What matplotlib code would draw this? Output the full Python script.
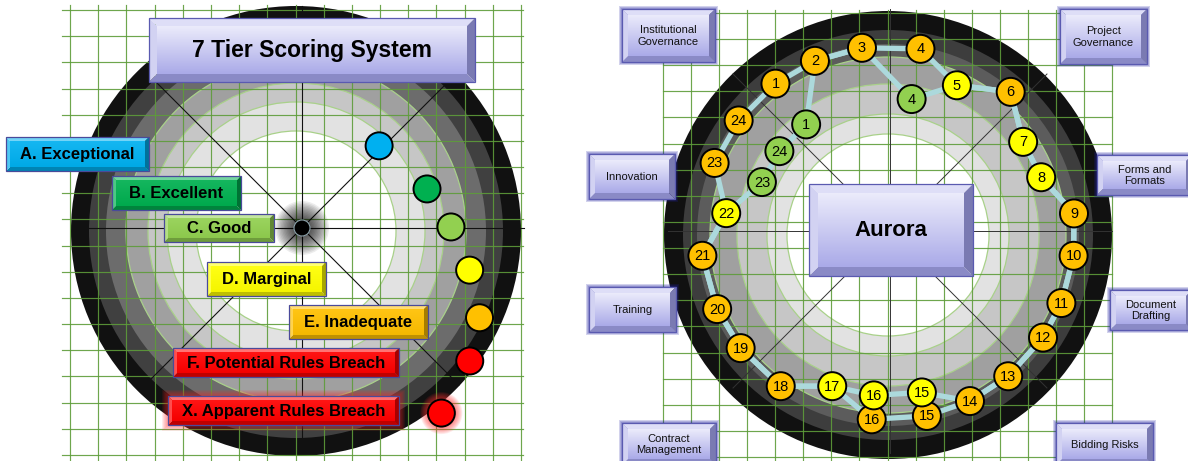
import numpy as np
import matplotlib
matplotlib.use("Agg")
import matplotlib.pyplot as plt
from matplotlib.patches import Circle, Rectangle, Polygon
from matplotlib.colors import to_rgb

# ---------------- data ----------------
TITLE = "7 Tier Scoring System"
TIER_CODES = ["A", "B", "C", "D", "E", "F", "X"]
TIER_NAMES = ["A. Exceptional", "B. Excellent", "C. Good", "D. Marginal",
              "E. Inadequate", "F. Potential Rules Breach", "X. Apparent Rules Breach"]
TIER_COLORS = ["#00b0f0", "#00b050", "#92d050", "#ffff00", "#ffc000", "#ff0000", "#ff0000"]

CENTER_LABEL = "Aurora"
CATEGORIES = ["Institutional\nGovernance", "Project\nGovernance", "Innovation",
              "Forms and\nFormats", "Training", "Document\nDrafting",
              "Contract\nManagement", "Bidding Risks"]
ITEMS = list(range(1, 25))
CURRENT_SCORES = ["E", "E", "E", "E", "D", "E", "D", "D", "E", "E", "E", "E",
                  "E", "E", "E", "E", "D", "E", "E", "E", "E", "D", "E", "E"]
REVISED_SCORES = ["C", "E", "E", "C", "D", "E", "D", "D", "E", "E", "E", "E",
                  "E", "E", "D", "D", "D", "E", "E", "E", "E", "D", "C", "C"]

# ---------------- layout ----------------
W, H = 1188, 461
fig = plt.figure(figsize=(W / 100, H / 100), dpi=100)
ax = fig.add_axes([0, 0, 1, 1])
ax.set_xlim(0, W)
ax.set_ylim(H, 0)
ax.axis("off")
FONT = "Liberation Sans"
COLOR_OF = dict(zip(TIER_CODES, TIER_COLORS))


def mix(c, c2, t):
    a = np.array(to_rgb(c))
    b = np.array(to_rgb(c2))
    return tuple(a * (1 - t) + b * t)


def gradient(x0, y0, x1, y1, ctop, cbot, z):
    n = 64
    t = np.linspace(0, 1, n)[:, None]
    a = np.array(to_rgb(ctop))
    b = np.array(to_rgb(cbot))
    arr = (a * (1 - t) + b * t)[:, None, :]
    ax.imshow(arr, extent=(x0, x1, y1, y0), aspect="auto", zorder=z,
              interpolation="bilinear", origin="upper")


def bevel_box(x0, y0, x1, y1, face, b, text, fs, weight="bold", lavender=False,
              glow=None, z=10, tcolor="black"):
    if glow is not None:
        gc, gw, ga = glow
        for k in range(gw, 0, -1):
            ax.add_patch(Rectangle((x0 - k, y0 - k), x1 - x0 + 2 * k, y1 - y0 + 2 * k,
                                   fc=gc, ec="none", alpha=ga, zorder=z - 0.5))
    if lavender:
        ctop, cbot = "#ebebfb", "#aaaae8"
        btop, bleft, bright, bbot = "#dedef7", "#d2d2f2", "#7a7ab2", "#8a8ac6"
        edge = "#5a5ab0"
    else:
        ctop, cbot = mix(face, "white", 0.08), mix(face, "black", 0.04)
        btop, bleft = mix(face, "white", 0.45), mix(face, "white", 0.3)
        bright, bbot = mix(face, "black", 0.35), mix(face, "black", 0.25)
        edge = "#4a4a9a"
    ax.add_patch(Polygon([(x0, y0), (x1, y0), (x1 - b, y0 + b), (x0 + b, y0 + b)],
                         fc=btop, ec="none", zorder=z))
    ax.add_patch(Polygon([(x0, y1), (x1, y1), (x1 - b, y1 - b), (x0 + b, y1 - b)],
                         fc=bbot, ec="none", zorder=z))
    ax.add_patch(Polygon([(x0, y0), (x0 + b, y0 + b), (x0 + b, y1 - b), (x0, y1)],
                         fc=bleft, ec="none", zorder=z))
    ax.add_patch(Polygon([(x1, y0), (x1 - b, y0 + b), (x1 - b, y1 - b), (x1, y1)],
                         fc=bright, ec="none", zorder=z))
    gradient(x0 + b, y0 + b, x1 - b, y1 - b, ctop, cbot, z + 0.1)
    ax.add_patch(Rectangle((x0, y0), x1 - x0, y1 - y0, fc="none", ec=edge, lw=0.9,
                           zorder=z + 0.2))
    ax.text((x0 + x1) / 2, (y0 + y1) / 2 + 0.5, text, ha="center", va="center",
            fontsize=fs, fontweight=weight, family=FONT, color=tcolor, zorder=z + 0.3,
            linespacing=1.15)


def rings(cx, cy, radii, colors, outline_from, z=1):
    for r, c in zip(radii, colors):
        ax.add_patch(Circle((cx, cy), r, fc=c, ec="none", zorder=z))
    for r in radii[outline_from:]:
        ax.add_patch(Circle((cx, cy), r, fc="none", ec="#a9d18a", lw=0.9, zorder=z + 0.1))


def grid(xs, ys, xr, yr, z=2):
    for x in xs:
        ax.plot([x, x], yr, color="#5e9c3a", lw=0.85, alpha=0.9, zorder=z)
    for y in ys:
        ax.plot(xr, [y, y], color="#5e9c3a", lw=0.85, alpha=0.9, zorder=z)


def spokes(cx, cy, length, color, lw, z=3):
    for ang in range(0, 360, 45):
        a = np.deg2rad(ang)
        ax.plot([cx, cx + length * np.cos(a)], [cy, cy - length * np.sin(a)],
                color=color, lw=lw, zorder=z)


# ================= LEFT PANEL =================
LCX, LCY = 296, 231
rings(LCX, LCY, [225, 207, 190, 170, 148, 129, 100],
      ["#111111", "#404040", "#6c6c6c", "#a0a0a0", "#c6c6c6", "#e2e2e2", "#ffffff"], 3)
grid(np.linspace(70, 521, 17), np.linspace(10, 455, 18), (62, 523), (5, 461))
spokes(302, 228, 222, "#111111", 0.8)

# center dot with soft shadow
for r in np.linspace(27, 8, 14):
    ax.add_patch(Circle((302, 228), r, fc="black", ec="none", alpha=0.075, zorder=4))
ax.add_patch(Circle((302, 228), 8, fc="black", ec="#8aa0a8", lw=0.8, zorder=4.5))

# tier legend boxes
LEFT_BOXES = [(6, 137, 149, 171), (112, 176, 241, 210), (164, 214, 274, 242),
              (207, 262, 326, 296), (289, 305, 428, 339), (173, 348, 399, 377),
              (168, 396, 399, 425)]
for name, col, (x0, y0, x1, y1), code in zip(TIER_NAMES, TIER_COLORS, LEFT_BOXES, TIER_CODES):
    glow = ("#ff2020", 6, 0.09) if code == "X" else None
    bevel_box(x0, y0, x1, y1, col, 4, name, 12, glow=glow, z=10)

# tier legend dots
DOT_ANG = [45.7, 17.8, 1.5, -12.7, -25.3, -36.8, -51.4]
DOT_RAD = [119, 137.6, 155, 178, 203, 217, 233]
for code, col, a, r in zip(TIER_CODES, TIER_COLORS, DOT_ANG, DOT_RAD):
    x = LCX + r * np.cos(np.deg2rad(a))
    y = LCY - r * np.sin(np.deg2rad(a))
    if code == "X":
        for rr in np.linspace(21, 14, 8):
            ax.add_patch(Circle((x, y), rr, fc="#ff3030", ec="none", alpha=0.1, zorder=14))
    ax.add_patch(Circle((x, y), 13.5, fc=col, ec="black", lw=1.4, zorder=15))

bevel_box(149, 18, 475, 82, None, 8, TITLE, 16.5, lavender=True, z=12)

# ================= RIGHT PANEL =================
RCX, RCY = 888, 233
rings(RCX, RCY + 2, [224, 205, 191, 178, 151, 121, 101],
      ["#111111", "#3d3d3d", "#5c5c5c", "#a0a0a0", "#c6c6c6", "#e2e2e2", "#ffffff"], 3)
grid(np.linspace(663, 1112, 17), np.linspace(13, 457, 18), (663, 1112), (10, 461))
spokes(890, 231, 222, "#333333", 0.7)

bevel_box(809, 184, 973, 276, None, 9, CENTER_LABEL, 16, lavender=True, z=12)

CAT_BOXES = [(622, 9, 715, 62), (1060, 9, 1147, 64), (589, 154, 675, 199),
             (1097, 155, 1192, 195), (589, 287, 676, 332), (1110, 290, 1192, 330),
             (622, 423, 716, 465), (1056, 423, 1153, 465)]
for cat, (x0, y0, x1, y1) in zip(CATEGORIES, CAT_BOXES):
    bevel_box(x0, y0, x1, y1, None, 6, cat, 8, weight="normal", lavender=True,
              glow=("#2020a0", 3, 0.2), z=12, tcolor="#111111")

ITEM_ANGLE = [-37, -23, -8, 10, 25, 41, 56, 70, 84, 97, 112, 124, 140, 154, 168,
              185, 200, 215, 232, 246, 263, 277, 292, 307]
TIER_RADIUS = {"C": 136, "D": 163, "E": 187}


def node_xy(i, score):
    a = np.deg2rad(ITEM_ANGLE[i])
    r = TIER_RADIUS[score]
    return RCX + r * np.sin(a), RCY - r * np.cos(a)


for scores in (CURRENT_SCORES, REVISED_SCORES):
    pts = [node_xy(i, s) for i, s in enumerate(scores)]
    pts.append(pts[0])
    xs, ys = zip(*pts)
    ax.plot(xs, ys, color="#acd9dc", lw=3.8, solid_capstyle="round", zorder=16)

drawn = set()
for scores in (CURRENT_SCORES, REVISED_SCORES):
    for i, s in enumerate(scores):
        if (i, s) in drawn:
            continue
        drawn.add((i, s))
        x, y = node_xy(i, s)
        ax.add_patch(Circle((x, y), 14, fc=COLOR_OF[s], ec="black", lw=1.4, zorder=17))
        ax.text(x, y + 0.5, str(ITEMS[i]), ha="center", va="center", fontsize=10.5,
                family=FONT, color="black", zorder=18)

ax.set_xlim(0, W)
ax.set_ylim(H, 0)
fig.savefig("out.png", dpi=100, facecolor="white")
